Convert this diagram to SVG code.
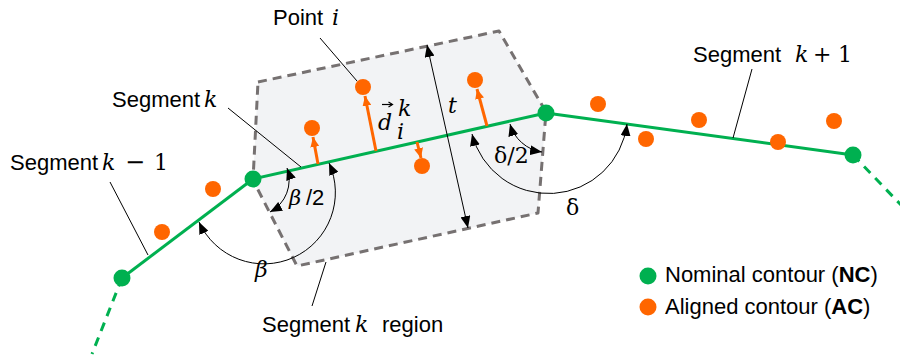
<svg xmlns="http://www.w3.org/2000/svg" width="900" height="358" viewBox="0 0 900 358">
<style>
.lbl{font-family:"Liberation Sans",Arial,sans-serif;font-size:22px;fill:#000}
.m{font-family:"DejaVu Serif","Liberation Serif",serif;font-style:italic}
.mu{font-family:"DejaVu Serif","Liberation Serif",serif}
.nc{fill:#00b050}
.ac{fill:#ff6600}
.seg{stroke:#00b050;stroke-width:3;fill:none}
.segd{stroke:#00b050;stroke-width:3;fill:none;stroke-dasharray:9 7}
.lead{stroke:#000;stroke-width:1;fill:none}
.arc{stroke:#000;stroke-width:1;fill:none;marker-start:url(#ah);marker-end:url(#ah)}
.oarr{stroke:#ff6600;stroke-width:3;fill:none;marker-end:url(#oh)}
</style>
<defs>
<marker id="ah" markerUnits="userSpaceOnUse" viewBox="0 0 12 10" refX="12" refY="5" markerWidth="12" markerHeight="10" orient="auto-start-reverse">
<path d="M0,0 L12,5 L0,10 z" fill="#000"/>
</marker>
<marker id="oh" markerUnits="userSpaceOnUse" viewBox="0 0 10 9" refX="10" refY="4.5" markerWidth="10" markerHeight="9" orient="auto">
<path d="M0,0 L10,4.5 L0,9 z" fill="#ff6600"/>
</marker>
</defs>

<g id="region">
<polygon points="258,82 499,31 546,112 538,213 297,266 253,180" fill="#f2f3f5" stroke="#767171" stroke-width="3" stroke-dasharray="9 6" stroke-linejoin="round"/>
</g>

<g id="connectors">
<line class="segd" x1="122" y1="278" x2="92" y2="354"/>
<line class="seg" x1="122" y1="278" x2="253" y2="179"/>
<line class="seg" x1="253" y1="179" x2="546" y2="113"/>
<line class="seg" x1="546" y1="113" x2="853" y2="155"/>
<line class="segd" x1="853" y1="155" x2="902" y2="206"/>
<line class="lead" x1="110" y1="182" x2="148" y2="255"/>
<line class="lead" x1="228" y1="108" x2="301" y2="167"/>
<line class="lead" x1="320" y1="38" x2="357" y2="81"/>
<line class="lead" x1="752" y1="69" x2="733" y2="138"/>
<line class="lead" x1="326" y1="262" x2="312" y2="306"/>
<line class="arc" x1="427" y1="45" x2="468" y2="228"/>
<path class="arc" d="M199,222 A71,71 0 0 0 329,163"/>
<path class="arc" d="M287,168 A36,36 0 0 1 270,212"/>
<path class="arc" d="M472,134 A79,79 0 0 0 627,124"/>
<path class="arc" d="M510,124 A39,39 0 0 0 542,152"/>
<line class="oarr" x1="318" y1="164" x2="313" y2="137"/>
<line class="oarr" x1="376" y1="151" x2="365" y2="96"/>
<line class="oarr" x1="487" y1="126" x2="477" y2="89"/>
<line class="oarr" x1="417" y1="142" x2="421" y2="158"/>
</g>

<g id="aligned-points">
<circle class="ac" cx="162" cy="232" r="8"/>
<circle class="ac" cx="213" cy="189" r="8"/>
<circle class="ac" cx="312" cy="128" r="8"/>
<circle class="ac" cx="363" cy="87" r="8"/>
<circle class="ac" cx="422" cy="166" r="8"/>
<circle class="ac" cx="475" cy="80" r="8"/>
<circle class="ac" cx="598" cy="104" r="8"/>
<circle class="ac" cx="646" cy="139" r="8"/>
<circle class="ac" cx="699" cy="120" r="8"/>
<circle class="ac" cx="778" cy="142" r="8"/>
<circle class="ac" cx="834" cy="121" r="8"/>
</g>

<g id="nominal-nodes">
<circle id="n1" class="nc" cx="122" cy="278" r="8.5"/>
<circle id="n2" class="nc" cx="253" cy="179" r="8.5"/>
<circle id="n3" class="nc" cx="546" cy="113" r="8.5"/>
<circle id="n4" class="nc" cx="853" cy="155" r="8.5"/>
</g>

<g id="labels">
<text class="lbl" x="10" y="170">Segment<tspan class="m" x="102">k</tspan><tspan class="mu" x="125" font-size="24">−</tspan><tspan class="mu" x="154">1</tspan></text>
<text class="lbl" x="112" y="107">Segment<tspan class="m" x="204">k</tspan></text>
<text class="lbl" x="273" y="25">Point<tspan class="m" x="332">i</tspan></text>
<text class="lbl" x="693" y="62">Segment<tspan class="m" x="795">k</tspan><tspan class="mu" x="813">+</tspan><tspan class="mu" x="838">1</tspan></text>
<text class="lbl" x="262" y="332">Segment<tspan class="m" x="355">k</tspan><tspan x="382">region</tspan></text>
<text class="lbl m" x="448" y="113" font-size="21">t</text>
<text class="lbl m" x="378" y="130" font-size="28">d</text>
<text class="lbl m" x="398" y="116" font-size="15">k</text>
<text class="lbl m" x="397" y="139" font-size="15">i</text>
<line x1="382" y1="104.5" x2="392" y2="104.5" stroke="#000" stroke-width="1.2"/>
<path d="M388.5,102 L392.5,104.5 L388.5,107" fill="none" stroke="#000" stroke-width="1.2"/>
<text class="lbl" x="289" y="205" font-size="20"><tspan class="m" font-size="21">β</tspan><tspan x="306">/2</tspan></text>
<text class="lbl m" x="255" y="277" font-size="22">β</text>
<text class="lbl mu" x="494" y="163" font-size="20">δ/2</text>
<text class="lbl mu" x="566" y="215" font-size="22">δ</text>
</g>

<g id="legend">
<circle class="nc" cx="648" cy="276" r="8.5"/>
<text class="lbl" x="665" y="282">Nominal contour (<tspan font-weight="bold">NC</tspan>)</text>
<circle class="ac" cx="648" cy="307" r="8.5"/>
<text class="lbl" x="665" y="314">Aligned contour (<tspan font-weight="bold">AC</tspan>)</text>
</g>
</svg>
